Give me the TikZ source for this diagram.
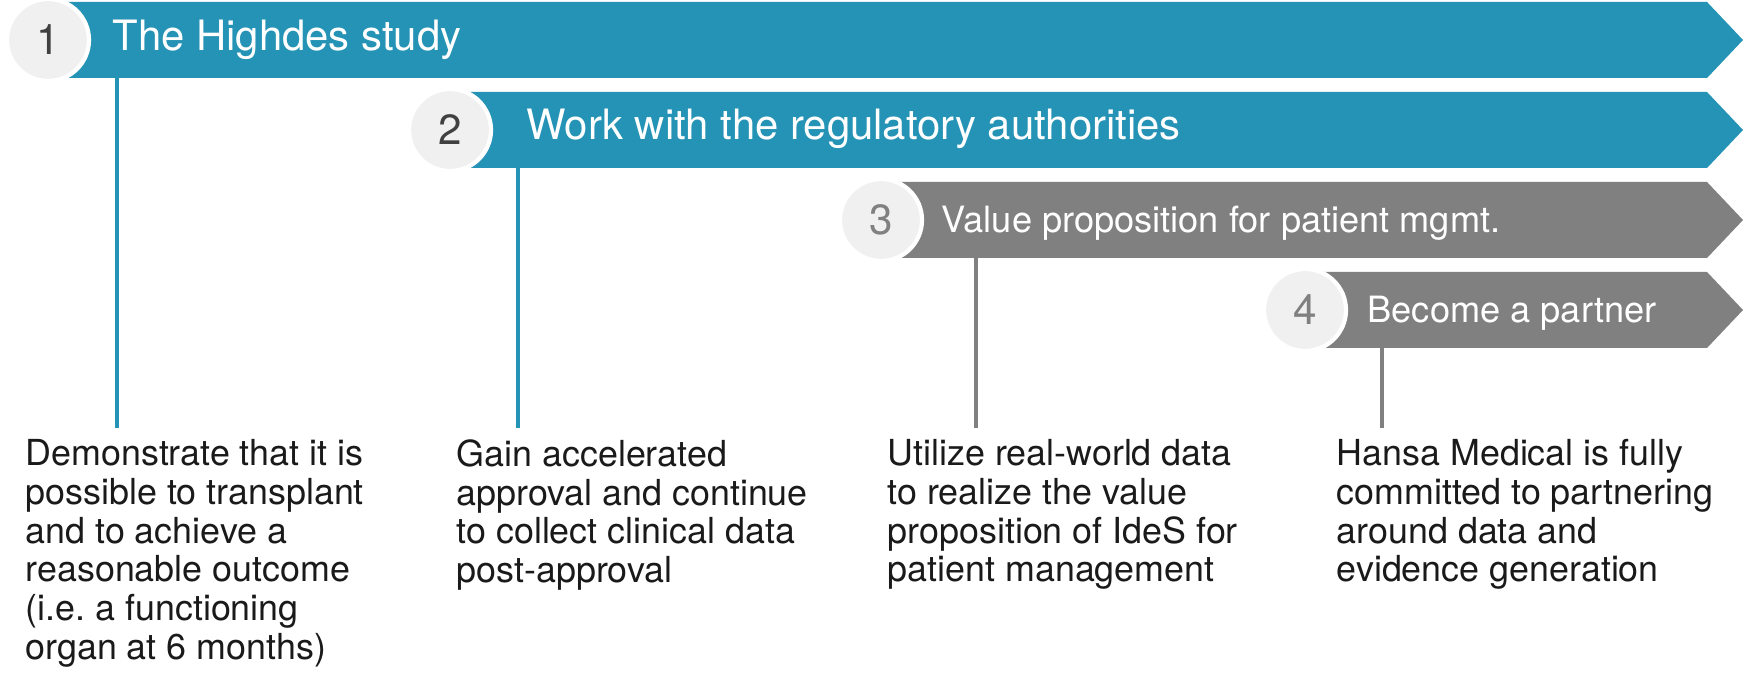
\documentclass[tikz,border=0pt]{standalone}
\usepackage{fontspec}
\setmainfont{TeX Gyre Heros}
\usepackage{tikz}
\usetikzlibrary{positioning}
\definecolor{hblue}{HTML}{2593B5}
\definecolor{hgray}{HTML}{808080}
\definecolor{circfill}{HTML}{F0F0F0}
\definecolor{numdark}{HTML}{404040}
\definecolor{textdark}{HTML}{1A1A1A}
\tikzset{
    numcirc/.style={circle, fill=circfill, draw=white, line width=1.2pt, minimum size=8.2mm, inner sep=0pt, font=\fontsize{12}{14}\selectfont},
    bartext/.style={text=white, anchor=base west, inner sep=0pt},
    coltext/.style={text=textdark, anchor=north west, align=left, inner sep=0pt, font=\fontsize{10.2}{11}\selectfont},
    stem/.style={line width=1pt}
}

\begin{document}
\begin{tikzpicture}[x=0.1mm, y=-0.1mm]
    \useasboundingbox (0,0) rectangle (1748,676);

    % Bars
    \fill[hblue] (48,2) -- (1707,2) -- (1743,40) -- (1707,78) -- (48,78) -- cycle;
    \fill[hblue] (450,92) -- (1707,92) -- (1743,130) -- (1707,168) -- (450,168) -- cycle;
    \fill[hgray] (881,182) -- (1707,182) -- (1743,220) -- (1707,258) -- (881,258) -- cycle;
    \fill[hgray] (1305,272) -- (1707,272) -- (1743,310) -- (1707,348) -- (1305,348) -- cycle;

    % Bar titles
    \node[bartext, font=\fontsize{11.9}{14}\selectfont] (title1) at (112,51) {The Highdes study};
    \node[bartext, font=\fontsize{11.9}{14}\selectfont] (title2) at (526,140) {Work with the regulatory authorities};
    \node[bartext, font=\fontsize{10.3}{12}\selectfont] (title3) at (941,233) {Value proposition for patient mgmt.};
    \node[bartext, font=\fontsize{10.3}{12}\selectfont] (title4) at (1367,323) {Become a partner};

    % Numbers
    \node[numcirc, text=numdark] (num1) at (48,40) {1};
    \node[numcirc, text=numdark] (num2) at (450,130) {2};
    \node[numcirc, text=hgray] (num3) at (881,220) {3};
    \node[numcirc, text=hgray] (num4) at (1305,310) {4};

    % Stems
    \coordinate (top1) at (117,74);
    \coordinate (top2) at (518,164);
    \coordinate (top3) at (976,254);
    \coordinate (top4) at (1382,344);
    \coordinate (foot1) at (117,428);
    \coordinate (foot2) at (518,428);
    \coordinate (foot3) at (976,428);
    \coordinate (foot4) at (1382,428);
    \draw[stem, hblue] (top1) -- (foot1);
    \draw[stem, hblue] (top2) -- (foot2);
    \draw[stem, hgray] (top3) -- (foot3);
    \draw[stem, hgray] (top4) -- (foot4);

    % Descriptions
    \node[coltext] (desc1) at (25,439) {Demonstrate that it is\\possible to transplant\\and to achieve a\\reasonable outcome\\(i.e.\ a functioning\\organ at 6 months)};
    \node[coltext] (desc2) at (456,439) {Gain accelerated\\approval and continue\\to collect clinical data\\post-approval};
    \node[coltext] (desc3) at (887,439) {Utilize real-world data\\to realize the value\\proposition of IdeS for\\patient management};
    \node[coltext] (desc4) at (1336,439) {Hansa Medical is fully\\committed to partnering\\around data and\\evidence generation};
\end{tikzpicture}
\end{document}
